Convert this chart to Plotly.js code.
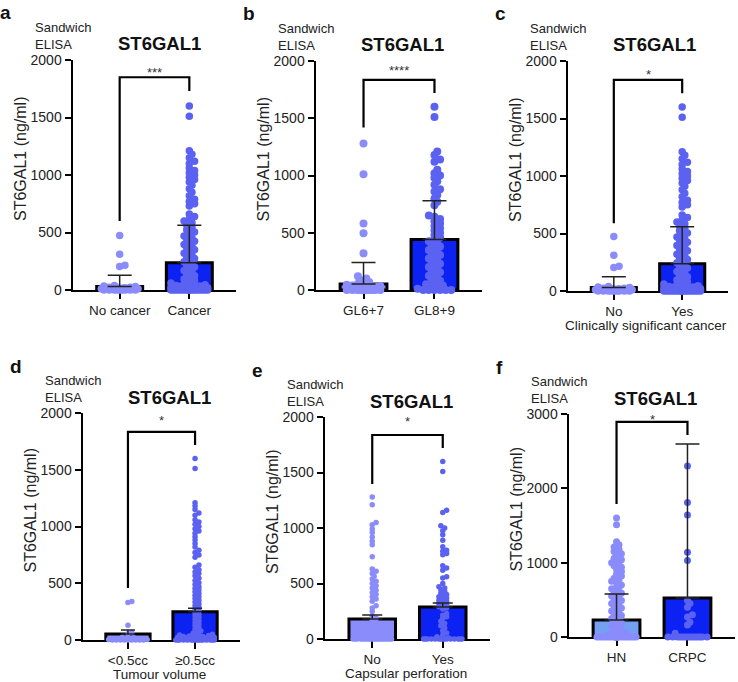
<!DOCTYPE html>
<html>
<head>
<meta charset="utf-8">
<script src="https://cdn.plot.ly/plotly-3.0.1.min.js"></script>
<style>
  body { margin: 0; background: #fff; }
  #chart { width: 738px; height: 682px; }
</style>
</head>
<body>
<div id="chart"></div>
<script>
// Values (ng/ml)
const aLabels = ['No cancer', 'Cancer'];
const aNoCancer = [475, 310, 215, 205, 40, 35, 30, 25, 25, 20, 20, 15, 15, 10, 10, 10, 5, 5, 5, 0, 0, 0, 0, 0, 0, 0, 0, 0];
const aCancer = [1600, 1510, 1210, 1180, 1150, 1120, 1100, 1060, 1040, 1020, 1000, 980, 960, 940, 910, 880, 850, 820,
    790, 770, 750, 730, 660, 640, 620, 600, 585, 565, 545, 525, 505, 490, 470, 455, 440, 425, 410, 395, 380, 365, 350,
    335, 320, 305, 290, 275, 260, 245, 230, 215, 200, 185, 170, 155, 140, 125, 110, 95, 80, 70, 60, 50, 45, 40, 40, 35,
    35, 30, 30, 25, 25, 20, 20, 20, 15, 15, 15, 10, 10, 10, 10, 5, 5, 5, 5, 0, 0, 0, 0, 0, 0, 0, 0, 0, 0, 0, 0, 0, 0, 0, 0];
const aMeans = [30, 238];
const aErrTop = [128, 562];

const bLabels = ['GL6+7', 'GL8+9'];
const bGL67 = [1280, 1010, 580, 495, 320, 120, 100, 85, 70, 55, 50, 45, 40, 35, 30, 25, 20, 15, 10, 10, 5, 5, 0, 0, 0, 0, 0, 0, 0, 0, 0, 0];
const bGL89 = [1600, 1510, 1210, 1180, 1140, 1120, 1050, 1020, 1000, 980, 950, 920, 880, 860, 830, 800, 770, 740, 650,
    640, 620, 600, 580, 560, 540, 520, 500, 480, 460, 440, 425, 410, 395, 380, 365, 350, 335, 320, 305, 290, 275, 260,
    245, 230, 215, 200, 185, 170, 155, 140, 125, 110, 95, 80, 65, 50, 40, 30, 20, 10, 0, 0, 0, 0, 0, 0];
const bMeans = [52, 440];
const bErrTop = [240, 780];

const cLabels = ['No', 'Yes'];
const cNo = [475, 310, 215, 205, 40, 35, 30, 25, 25, 20, 20, 15, 15, 10, 10, 10, 5, 5, 5, 0, 0, 0, 0, 0, 0, 0, 0, 0];
const cYes = aCancer;
const cMeans = [30, 236];
const cErrTop = [124, 558];

const dLabels = ['<0.5cc', '≥0.5cc'];
const dSmall = [340, 330, 130, 65, 55, 25, 20, 15, 10, 5, 5, 0, 0, 0, 0, 0, 0, 0, 0, 0];
const dLarge = aCancer;
const dMeans = [53, 248];
const dErrTop = [88, 280];

const eLabels = ['No', 'Yes'];
const eNo = [1280, 1210, 1050, 1030, 990, 960, 920, 880, 850, 740, 630, 610, 590, 565, 540, 520, 500, 480, 460, 440,
    420, 400, 380, 360, 340, 300, 280, 250, 210, 190, 170, 150, 130, 110, 90, 70, 50, 40, 30, 20, 15, 10, 5,
    0, 0, 0, 0, 0, 0, 0, 0, 0, 0, 0, 0, 0, 0, 0, 0, 0, 0, 0, 0];
const eYes = [1600, 1510, 1160, 1140, 1020, 1000, 975, 940, 890, 830, 800, 790, 770, 760, 660, 640, 620, 560, 550, 500,
    470, 460, 445, 430, 415, 400, 390, 380, 370, 360, 350, 340, 330, 320, 310, 300, 290, 280, 270, 230, 215, 200, 185,
    160, 140, 120, 100, 75, 55, 35, 20, 10, 0, 0, 0, 0, 0, 0, 0, 0, 0, 0, 0, 0, 0, 0, 0];
const eMeans = [180, 288];
const eErrTop = [216, 324];

const fLabels = ['HN', 'CRPC'];
const fHN = [1600, 1510, 1280, 1240, 1210, 1180, 1150, 1120, 1100, 1060, 1040, 1020, 1000, 980, 960, 940, 910, 880, 850,
    820, 790, 770, 750, 730, 700, 670, 650, 630, 610, 590, 570, 550, 530, 510, 490, 470, 450, 430, 410, 390, 370, 350,
    330, 310, 290, 270, 250, 230, 210, 190, 170, 150, 130, 110, 90, 70, 50, 40, 30, 20, 10, 5,
    0, 0, 0, 0, 0, 0, 0, 0, 0, 0, 0, 0, 0, 0, 0, 0, 0, 0, 0, 0, 0, 0, 0, 0, 0, 0, 0, 0, 0, 0];
const fCRPC = [2300, 1810, 1640, 1140, 1030, 490, 450, 400, 300, 270, 200, 160, 50, 0, 0, 0, 0, 0, 0, 0, 0, 0, 0, 0, 0, 0, 0];
const fMeans = [229, 525];
const fErrTop = [578, 2598];

// significance brackets: [left leg start, top, right leg start], label
const brackets = [[600, 1850, 1730], [1420, 1835, 1720], [590, 1835, 1720], [458, 1833, 1718], [1396, 1838, 1720], [1790, 2893, 2718]];
const stars = ['***', '****', '*', '*', '*', '*'];
const starY = [1915, 1940, 1905, 1960, 1990, 2960];
const xTitles = ['', '', 'Clinically significant cancer', 'Tumour volume', 'Capsular perforation', ''];

const W = 738, H = 682;
const FONT = 'Arial, "Liberation Sans", sans-serif';
const LIGHT = '#8a8cfc';
const MID = '#5b62f2';
const DARK = '#0b22f2';

// pixel frame of each panel's plot area, plus styling
const panels = [
    { letter: 'a', left: 73, right: 236, top: 60, bottom: 290, ymax: 2000, dtick: 500, labels: aLabels, groups: [aNoCancer, aCancer], means: aMeans, errTop: aErrTop, size: 7.5, cap: 12, fill0: LIGHT },
    { letter: 'b', left: 316, right: 482, top: 61, bottom: 290, ymax: 2000, dtick: 500, labels: bLabels, groups: [bGL67, bGL89], means: bMeans, errTop: bErrTop, size: 8, cap: 12, fill0: LIGHT },
    { letter: 'c', left: 568, right: 728, top: 61, bottom: 291, ymax: 2000, dtick: 500, labels: cLabels, groups: [cNo, cYes], means: cMeans, errTop: cErrTop, size: 7.5, cap: 12, fill0: LIGHT },
    { letter: 'd', left: 83, right: 240, top: 413, bottom: 640, ymax: 2000, dtick: 500, labels: dLabels, groups: [dSmall, dLarge], means: dMeans, errTop: dErrTop, size: 5.5, cap: 7, fill0: LIGHT },
    { letter: 'e', left: 325, right: 490, top: 417, bottom: 639, ymax: 2000, dtick: 500, labels: eLabels, groups: [eNo, eYes], means: eMeans, errTop: eErrTop, size: 5.5, cap: 10, fill0: LIGHT },
    { letter: 'f', left: 569, right: 735, top: 414, bottom: 637, ymax: 3000, dtick: 1000, labels: fLabels, groups: [fHN, fCRPC], means: fMeans, errTop: fErrTop, size: 7, cap: 12, fill0: '#74a0f2' }
];

const XMIN = -0.67, XMAX = 1.67;
const BAR_W = 0.66;

const px = v => v / W;
const py = v => 1 - v / H;

/**
 * Beeswarm offsets (in category units) so that dots do not pile on each other
 */
function swarm(values, pxPerY, pxPerX, diam, maxOff) {
    const order = values.map((v, i) => i).sort((a, b) => values[a] - values[b]);
    const placed = [];
    const out = new Array(values.length);
    const minD2 = (diam * 0.55) ** 2;
    const step = diam * 0.35;
    order.forEach(i => {
        const y = values[i] * pxPerY;
        let chosen = null, bestOff = 0, bestD2 = -1;
        for (let k = 0; k * step <= maxOff && chosen === null; k++) {
            for (const s of (k ? [1, -1] : [1])) {
                const off = s * k * step;
                let d2 = Infinity;
                placed.forEach(p => {
                    if (Math.abs(p.y - y) < diam) {
                        d2 = Math.min(d2, (p.x - off) ** 2 + (p.y - y) ** 2);
                    }
                });
                if (d2 >= minD2) { chosen = off; break; }
                if (d2 > bestD2) { bestD2 = d2; bestOff = off; }
            }
        }
        if (chosen === null) chosen = bestOff;
        placed.push({ x: chosen, y });
        out[i] = chosen / pxPerX;
    });
    return out;
}

const traces = [];
const shapes = [];
const annotations = [];
const layout = {
    width: W,
    height: H,
    margin: { l: 0, r: 0, t: 0, b: 0 },
    paper_bgcolor: '#fff',
    plot_bgcolor: 'rgba(0,0,0,0)',
    showlegend: false,
    font: { family: FONT, color: '#222', size: 13 }
};

panels.forEach((p, idx) => {
    const n = idx + 1;
    const xa = n === 1 ? 'x' : 'x' + n;
    const ya = n === 1 ? 'y' : 'y' + n;
    const xKey = n === 1 ? 'xaxis' : 'xaxis' + n;
    const yKey = n === 1 ? 'yaxis' : 'yaxis' + n;

    layout[xKey] = {
        domain: [px(p.left), px(p.right)],
        anchor: ya,
        range: [XMIN, XMAX],
        type: 'linear',
        tickvals: [0, 1],
        ticktext: p.labels,
        showgrid: false,
        zeroline: false,
        showline: true,
        linecolor: '#000',
        linewidth: 2,
        ticks: 'outside',
        ticklen: 7,
        tickwidth: 2,
        tickcolor: '#000',
        tickfont: { size: 13.5, family: FONT, color: '#222' },
        layer: 'below traces',
        fixedrange: true
    };
    layout[yKey] = {
        domain: [py(p.bottom), py(p.top)],
        anchor: xa,
        range: [0, p.ymax],
        tick0: 0,
        dtick: p.dtick,
        showgrid: false,
        zeroline: false,
        showline: true,
        linecolor: '#000',
        linewidth: 2.5,
        ticks: 'outside',
        ticklen: 6,
        tickwidth: 2,
        tickcolor: '#000',
        tickfont: { size: 14, family: FONT, color: '#222' },
        layer: 'below traces',
        fixedrange: true
    };

    // mean bars
    traces.push({
        type: 'bar',
        x: [0, 1],
        y: p.means,
        width: BAR_W,
        xaxis: xa,
        yaxis: ya,
        marker: { color: [p.fill0, DARK], line: { color: '#000', width: 3 } },
        hoverinfo: 'skip'
    });

    // individual dots
    const pxPerY = (p.bottom - p.top) / p.ymax;
    const pxPerX = (p.right - p.left) / (XMAX - XMIN);
    const maxOff = BAR_W / 2 * pxPerX - p.size / 2;
    const colors = [LIGHT, MID];
    p.groups.forEach((vals, g) => {
        const offs = swarm(vals, pxPerY, pxPerX, p.size, maxOff);
        traces.push({
            type: 'scatter',
            mode: 'markers',
            x: offs.map(o => g + o),
            y: vals,
            xaxis: xa,
            yaxis: ya,
            cliponaxis: false,
            marker: { size: p.size, color: colors[g], line: { width: 0 } },
            hoverinfo: 'y'
        });
    });

    // error bars on top of the dots
    traces.push({
        type: 'scatter',
        mode: 'none',
        x: [0, 1],
        y: p.means,
        xaxis: xa,
        yaxis: ya,
        cliponaxis: false,
        error_y: {
            type: 'data',
            symmetric: false,
            array: p.errTop.map((t, i) => t - p.means[i]),
            arrayminus: [0, 0],
            color: '#222',
            thickness: 1.5,
            width: p.cap
        },
        hoverinfo: 'skip'
    });

    // significance bracket
    const [l, t, r] = brackets[idx];
    shapes.push({
        type: 'path',
        xref: xa,
        yref: ya,
        path: `M 0,${l} L 0,${t} L 1,${t} L 1,${r}`,
        line: { color: '#000', width: 2.2 }
    });
    annotations.push({
        xref: xa, yref: ya, x: 0.5, y: starY[idx],
        text: stars[idx], showarrow: false, yshift: -3,
        font: { size: 13, family: FONT, color: '#333' }
    });

    // panel letter, method note and title
    annotations.push({
        xref: 'paper', yref: 'paper',
        x: px(p.left - 75), y: py(p.top - 47),
        xanchor: 'left', yanchor: 'middle',
        text: '<b>' + p.letter + '</b>', showarrow: false,
        font: { size: 19, family: FONT, color: '#111' }
    });
    annotations.push({
        xref: 'paper', yref: 'paper',
        x: px(p.left - 40), y: py(p.top - 42),
        xanchor: 'left', yanchor: 'top',
        text: 'Sandwich<br>ELISA', showarrow: false, align: 'left',
        font: { size: 13, family: FONT, color: '#222' }
    });
    annotations.push({
        xref: 'paper', yref: 'paper',
        x: px(p.left + 86), y: py(p.top - 16),
        xanchor: 'center', yanchor: 'middle',
        text: '<b>ST6GAL1</b>', showarrow: false,
        font: { size: 18.5, family: FONT, color: '#111' }
    });
    annotations.push({
        xref: 'paper', yref: 'paper',
        x: px(p.left - 53), y: py((p.top + p.bottom) / 2 - 16),
        xanchor: 'center', yanchor: 'middle',
        text: 'ST6GAL1 (ng/ml)', showarrow: false, textangle: -90,
        font: { size: 16, family: FONT, color: '#222' }
    });
    if (xTitles[idx]) {
        annotations.push({
            xref: 'paper', yref: 'paper',
            x: px((p.left + p.right) / 2 - 2), y: py(p.bottom + 34),
            xanchor: 'center', yanchor: 'middle',
            text: xTitles[idx], showarrow: false,
            font: { size: 13.5, family: FONT, color: '#222' }
        });
    }
});

layout.shapes = shapes;
layout.annotations = annotations;

Plotly.newPlot('chart', traces, layout, { displayModeBar: false, staticPlot: true });
</script>
</body>
</html>
